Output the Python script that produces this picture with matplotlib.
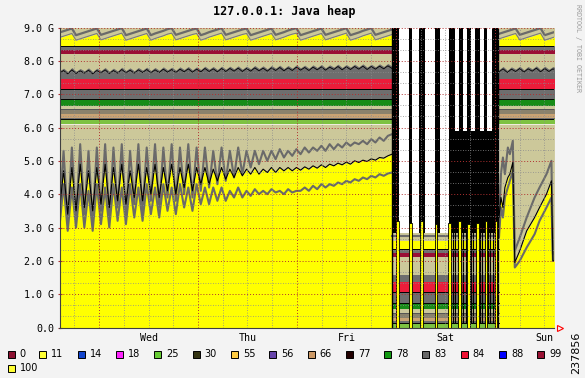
import matplotlib
matplotlib.use("Agg")
import matplotlib.pyplot as plt
from matplotlib.patches import Rectangle
import numpy as np

# x axis in days, 0 = Wed 00:00
x_lo, x_hi = -0.399, 4.596
day_names = ['Wed', 'Thu', 'Fri', 'Sat', 'Sun']
day_pos = [0.5, 1.5, 2.5, 3.5, 4.5]
ytick_labels = ['0.0', '1.0 G', '2.0 G', '3.0 G', '4.0 G', '5.0 G',
                '6.0 G', '7.0 G', '8.0 G', '9.0 G']

# Tue afternoon -> Fri night, about one sample per hour
t_a0, t_step = -0.40, 0.042
upper_gray = [3.4, 5.3, 3.2, 5.4, 3.3, 5.5, 3.4, 5.3, 3.2, 5.4,
              3.5, 5.5, 3.3, 5.4, 3.6, 5.5, 3.4, 5.3, 3.7, 5.5,
              3.5, 5.4, 3.8, 5.5, 3.6, 5.4, 3.9, 5.5, 3.8, 5.4,
              4.0, 5.5, 3.9, 5.4, 4.1, 5.4, 4.2, 5.3, 4.3, 5.4,
              4.4, 5.3, 4.5, 5.4, 4.6, 5.3, 4.8, 5.3, 4.9, 5.3,
              5.0, 5.3, 5.05, 5.35, 5.1, 5.3, 5.15, 5.35, 5.2, 5.4,
              5.25, 5.4, 5.3, 5.45, 5.3, 5.5, 5.35, 5.5, 5.4, 5.55,
              5.45, 5.55, 5.5, 5.6, 5.5, 5.65, 5.55, 5.7, 5.6, 5.75,
              5.8]
heap_used = [3.5, 4.7, 3.4, 4.8, 3.5, 4.9, 3.6, 4.7, 3.5, 4.8,
             3.7, 4.9, 3.6, 4.8, 3.8, 4.9, 3.7, 4.7, 3.9, 4.9,
             3.8, 4.8, 4.0, 4.9, 3.9, 4.8, 4.1, 4.9, 4.0, 4.8,
             4.2, 4.9, 4.1, 4.8, 4.3, 4.8, 4.3, 4.75, 4.4, 4.8,
             4.45, 4.75, 4.5, 4.8, 4.55, 4.75, 4.6, 4.8, 4.6, 4.75,
             4.65, 4.8, 4.65, 4.8, 4.7, 4.8, 4.7, 4.8, 4.72, 4.82,
             4.75, 4.85, 4.78, 4.88, 4.8, 4.9, 4.85, 4.93, 4.88, 4.96,
             4.9, 5.0, 4.95, 5.02, 4.98, 5.06, 5.02, 5.1, 5.08, 5.15,
             5.2]
lower_gray = [3.0, 4.3, 2.9, 4.2, 3.0, 4.3, 3.0, 4.1, 2.9, 4.3,
              3.1, 4.2, 3.0, 4.3, 3.2, 4.2, 3.1, 4.3, 3.3, 4.2,
              3.2, 4.3, 3.4, 4.2, 3.3, 4.3, 3.5, 4.2, 3.4, 4.3,
              3.6, 4.2, 3.5, 4.3, 3.7, 4.2, 3.7, 4.2, 3.8, 4.2,
              3.8, 4.1, 3.9, 4.2, 3.9, 4.1, 3.95, 4.15, 4.0, 4.1,
              4.0, 4.15, 4.05, 4.1, 4.0, 4.15, 4.05, 4.1, 4.1, 4.2,
              4.1, 4.25, 4.15, 4.3, 4.2, 4.3, 4.25, 4.35, 4.3, 4.4,
              4.35, 4.45, 4.4, 4.5, 4.45, 4.55, 4.5, 4.6, 4.55, 4.62,
              4.65]
old_gen = [7.70, 7.78, 7.68, 7.80, 7.69, 7.77, 7.70, 7.79, 7.68, 7.78,
           7.71, 7.80, 7.69, 7.78, 7.70, 7.81, 7.71, 7.79, 7.70, 7.80,
           7.72, 7.81, 7.71, 7.80, 7.72, 7.82, 7.73, 7.81, 7.72, 7.82,
           7.74, 7.83, 7.73, 7.82, 7.74, 7.84, 7.75, 7.83, 7.74, 7.84,
           7.75, 7.84, 7.76, 7.85, 7.75, 7.84, 7.76, 7.86, 7.77, 7.85,
           7.76, 7.86, 7.78, 7.87, 7.77, 7.86, 7.78, 7.88, 7.79, 7.87,
           7.78, 7.88, 7.80, 7.89, 7.79, 7.88, 7.81, 7.90, 7.80, 7.89,
           7.81, 7.90, 7.82, 7.91, 7.81, 7.90, 7.82, 7.91, 7.83, 7.92,
           7.84]
top_pool = [8.70, 8.74, 8.78, 8.82, 8.62, 8.66, 8.70, 8.74, 8.78, 8.82,
            8.63, 8.67, 8.71, 8.75, 8.79, 8.83, 8.62, 8.66, 8.70, 8.74,
            8.78, 8.82, 8.62, 8.67, 8.71, 8.75, 8.80, 8.83, 8.63, 8.67,
            8.71, 8.75, 8.79, 8.82, 8.62, 8.66, 8.71, 8.75, 8.79, 8.83,
            8.63, 8.67, 8.71, 8.75, 8.79, 8.82, 8.62, 8.66, 8.70, 8.74,
            8.78, 8.82, 8.63, 8.67, 8.71, 8.76, 8.80, 8.83, 8.62, 8.66,
            8.70, 8.74, 8.78, 8.82, 8.63, 8.67, 8.71, 8.75, 8.79, 8.83,
            8.62, 8.66, 8.70, 8.75, 8.79, 8.83, 8.63, 8.67, 8.71, 8.75,
            8.79]

# Sunday, after the outage
t_sun = [4.04, 4.06, 4.08, 4.10, 4.13, 4.15, 4.18, 4.20, 4.25, 4.32,
         4.40, 4.45, 4.52, 4.57, 4.585, 4.60]
sun_heap = [3.3, 3.9, 3.6, 4.2, 4.5, 4.6, 4.95, 1.95, 2.3, 2.9,
            3.3, 3.6, 4.0, 4.4, 2.0, 2.0]
sun_upper = [2.9, 4.6, 5.1, 4.6, 5.4, 5.2, 5.6, 2.3, 2.7, 3.3,
             3.9, 4.2, 4.6, 5.0, 2.2, 2.2]
sun_lower = [2.7, 3.6, 3.3, 3.9, 4.2, 4.4, 4.7, 1.8, 2.0, 2.4,
             2.8, 3.2, 3.6, 3.9, 2.0, 2.0]
t_sun0 = 4.04
top_pool_sun = [8.66, 8.70, 8.74, 8.78, 8.82, 8.63, 8.67, 8.71, 8.75, 8.79,
                8.83, 8.62, 8.66, 8.70, 8.74]
old_gen_sun = [7.74, 7.83, 7.72, 7.82, 7.75, 7.84, 7.73, 7.83, 7.76, 7.85,
               7.74, 7.84, 7.75, 7.83, 7.76]

# permanent pools stacked above the young gen (bottom -> top)
pool_size = [0.15, 0.05, 0.10, 0.15, 0.10, 0.20, 0.32, 0.30, 0.20, 0.55, 0.12, 0.12]
pool_color = ['#7DC242', '#6E6E6E', '#C9A373', '#8A826C', '#CCC89A', '#178C17',
              '#6E6E6E', '#EC1C3A', '#6E6E6E', '#CCC89A', '#9A0F35', '#707070']
pool_edge = ['black', None, None, '#555555', None, 'black',
             'black', None, None, None, None, 'black']
pool_base = 6.1

# Saturday outage
outage = (2.96, 4.04)
gap_t0 = [3.03, 3.165, 3.29, 3.44, 3.595, 3.675, 3.755, 3.845, 3.92]
gap_t1 = [3.13, 3.235, 3.39, 3.535, 3.635, 3.72, 3.80, 3.885, 3.965]
gap_floor = [2.85, 2.85, 2.85, 2.85, 5.9, 5.9, 5.9, 5.9, 5.9]
spike_t = [3.015, 3.146, 3.253, 3.404, 3.545, 3.646, 3.737, 3.828, 3.909, 4.01]
spike_h = [3.2, 3.15, 3.2, 3.1, 3.15, 3.2, 3.1, 3.15, 3.2, 3.2]
flap_t = [3.575, 3.60, 3.625, 3.655, 3.68, 3.705, 3.725, 3.755, 3.78, 3.805,
          3.845, 3.87, 3.895, 3.925, 3.95, 3.975, 4.0, 4.025]

legend_labels = ['0', '11', '14', '18', '25', '30', '55', '56', '66', '77',
                 '78', '83', '84', '88', '99', '100']
legend_colors = ['#8B1030', '#FFFF33', '#1144CC', '#FF22FF', '#66CC33', '#333311',
                 '#FFCC44', '#6644AA', '#CC9966', '#220000', '#119911', '#666666',
                 '#EE1133', '#0000FF', '#991133', '#FFFF33']

YELLOW = '#FFFF00'
KHAKI = '#CCC89A'
GRAY = '#6A6A6A'

W, H = 585, 378
fig = plt.figure(figsize=(W / 100, H / 100), dpi=100)
fig.patch.set_facecolor('#F3F3F3')
ax = fig.add_axes([59.5 / W, 1 - 327.5 / H, (554 - 59.5) / W, 300 / H])
ax.set_facecolor('white')
ax.set_xlim(x_lo, x_hi)
ax.set_ylim(0, 9.0)


def draw_pools(t0, t1, base):
    y = base
    for th, col, edge in zip(pool_size, pool_color, pool_edge):
        ax.fill_between([t0, t1], y, y + th, color=col, lw=0, zorder=1)
        if edge:
            ax.plot([t0, t1], [y + th, y + th], color=edge, lw=0.7, zorder=2)
        y += th
    return y


def normal_period(t, heap, upper, lower, tt, top, og):
    ax.fill_between(t, 0, heap, color=YELLOW, lw=0, zorder=1)
    ax.fill_between(t, heap, pool_base, color=KHAKI, lw=0, zorder=1)
    ax.plot(t, upper, color=GRAY, lw=1.5, zorder=3)
    ax.plot(t, lower, color=GRAY, lw=1.5, zorder=3)
    ax.plot(t, heap, color='black', lw=0.8, zorder=3)
    top_of_pools = draw_pools(tt[0], tt[-1], pool_base)
    og = np.array(og)
    ax.fill_between(tt, 7.6, og, color='#6E6E6E', lw=0, zorder=2)
    ax.plot(tt, og - 0.07, color='black', lw=0.6, zorder=2)
    top = np.array(top)
    ax.fill_between(tt, top_of_pools, top, color=YELLOW, lw=0, zorder=2)
    ax.fill_between(tt, top, 9.5, color=KHAKI, lw=0, zorder=2)
    ax.plot(tt, top, color='#7A7A7A', lw=0.8, zorder=3)
    ax.plot(tt, top + 0.15, color=GRAY, lw=1.6, zorder=3)


t_a = t_a0 + t_step * np.arange(len(heap_used))
normal_period(t_a, heap_used, upper_gray, lower_gray, t_a, top_pool, old_gen)

t_ts = t_sun0 + t_step * np.arange(len(top_pool_sun))
normal_period(t_sun, sun_heap, sun_upper, sun_lower, t_ts, top_pool_sun, old_gen_sun)

# outage: pools squeezed down to the bottom
o0, o1 = outage
ctop = draw_pools(o0, o1, 0.0)
ax.fill_between([o0, o1], ctop, 2.6, color=YELLOW, lw=0, zorder=2)
ax.fill_between([o0, o1], 2.6, 2.85, color=KHAKI, lw=0, zorder=2)
ax.plot([o0, o1], [2.75, 2.75], color=GRAY, lw=1.5, zorder=3)
ax.fill_between([o0, o1], 2.85, 9.0, color='black', lw=0, zorder=4)
ax.vlines(flap_t, 0.15, 9.0, color='black', lw=0.9, zorder=4)
ax.vlines([o0, o1 - 0.005], 0, 9.0, color='black', lw=1.0, zorder=4)
for a, b, f in zip(gap_t0, gap_t1, gap_floor):
    ax.fill_between([a, b], f, 9.0, color='white', lw=0, zorder=5)
ax.bar(spike_t, spike_h, width=0.03, color=YELLOW, edgecolor='black',
       lw=0.6, zorder=6)

# grid on top, rrdtool style
dot = (0, (1, 2))
for v in np.arange(1, 27):
    if v % 3:
        ax.axhline(v / 3, color='#8C8C8C', lw=0.6, ls=dot, zorder=10)
for v in range(1, 10):
    ax.axhline(v, color='#B03030', lw=0.7, ls=dot, zorder=10)
for d in np.arange(-0.25, 4.6, 0.25):
    if d % 1:
        ax.axvline(d, color='#8C8C8C', lw=0.6, ls=dot, zorder=10)
for d in range(5):
    ax.axvline(d, color='#B03030', lw=0.7, ls=dot, zorder=10)

mono = 'DejaVu Sans Mono'
ax.set_yticks(range(10))
ax.set_yticklabels(ytick_labels, fontsize=7.2, family=mono)
ax.tick_params(axis='y', length=3, direction='inout', color='#B03030', pad=2.5)
ax.set_xticks(day_pos)
ax.set_xticklabels(day_names, fontsize=7.2, family=mono)
ax.tick_params(axis='x', length=0, pad=4)
for s in ['top', 'right']:
    ax.spines[s].set_visible(False)
for s in ['left', 'bottom']:
    ax.spines[s].set_color('#404040')
    ax.spines[s].set_linewidth(0.8)
    ax.spines[s].set_zorder(11)
ax.plot([x_hi + 0.06], [0], marker='>', mfc='none', mec='red', ms=5,
        mew=0.8, clip_on=False, zorder=12)

fig.text(284 / W, 1 - 11 / H, '127.0.0.1: Java heap', ha='center', va='center',
         fontsize=8.5, fontweight='bold', family=mono)
fig.text(578 / W, 1 - 48 / H, 'RRDTOOL / TOBI OETIKER', rotation=270,
         ha='center', va='center', fontsize=4.8, color='#9A9A9A', family=mono)
fig.text(576 / W, 1 - 353 / H, '237856', rotation=90, ha='center', va='center',
         fontsize=8, family='DejaVu Sans')

# legend
lx, ly = 7.5, 354
for lab, col in zip(legend_labels, legend_colors):
    if lab == '100':
        lx, ly = 7.5, 368
    fig.patches.append(Rectangle((lx / W, 1 - (ly + 3.5) / H), 7 / W, 7 / H,
                                 transform=fig.transFigure, facecolor=col,
                                 edgecolor='black', lw=0.7))
    fig.text((lx + 12) / W, 1 - ly / H, lab, ha='left', va='center',
             fontsize=7, family='DejaVu Sans')
    lx += 25.5 + 6.4 * len(lab)

fig.savefig('out.png', dpi=100, facecolor=fig.get_facecolor())
